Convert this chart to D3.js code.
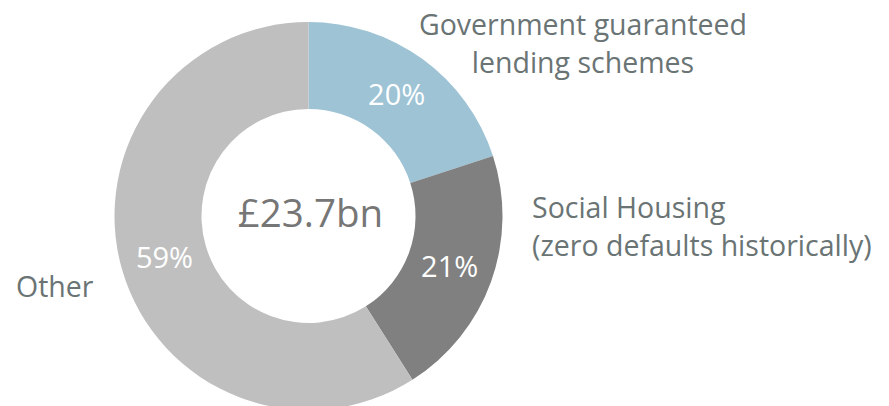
<!DOCTYPE html>
<html>
<head>
<meta charset="utf-8">
<script src="https://cdn.jsdelivr.net/npm/d3@7"></script>
<style>
  html, body { margin: 0; padding: 0; background: #fff; }
  svg { display: block; font-family: "Open Sans", sans-serif; }
</style>
</head>
<body>
<svg id="chart" width="889" height="406"></svg>
<script>
const categories = ["Government guaranteed lending schemes", "Social Housing (zero defaults historically)", "Other"];
const values = [20, 21, 59];
const valueLabels = ["20%", "21%", "59%"];
const colors = ["#9dc3d5", "#808080", "#bfbfbf"];
const totalLabel = "£23.7bn";

const svg = d3.select("#chart");
const cx = 308.5, cy = 216, outerR = 194, innerR = 107;
const g = svg.append("g").attr("transform", `translate(${cx},${cy})`);

const pie = d3.pie().sort(null).value(d => d);
const arcs = pie(values);
const arc = d3.arc().innerRadius(innerR).outerRadius(outerR);
const labelArc = d3.arc().innerRadius(150).outerRadius(150);

g.selectAll("path").data(arcs).join("path")
  .attr("d", arc)
  .attr("fill", (d, i) => colors[i]);

g.selectAll("text.pct").data(arcs).join("text")
  .attr("class", "pct")
  .attr("transform", d => `translate(${labelArc.centroid(d)})`)
  .attr("text-anchor", "middle")
  .attr("dy", "0.36em")
  .attr("fill", "#fff")
  .attr("font-size", 29)
  .text((d, i) => valueLabels[i]);

g.append("text")
  .attr("x", 2).attr("y", 11)
  .attr("text-anchor", "middle")
  .attr("fill", "#767676")
  .attr("font-size", 38.5)
  .text(totalLabel);

const labelColor = "#6a7474";
// Category labels, one text element per line
const govLines = ["Government guaranteed", "lending schemes"];
const socLines = ["Social Housing", "(zero defaults historically)"];

svg.selectAll("text.gov").data(govLines).join("text")
  .attr("class", "gov")
  .attr("fill", labelColor).attr("font-size", 28.5).attr("text-anchor", "middle")
  .attr("x", 583).attr("y", (d, i) => 35 + i * 38)
  .text(d => d);

svg.selectAll("text.soc").data(socLines).join("text")
  .attr("class", "soc")
  .attr("fill", labelColor).attr("font-size", 28.5).attr("text-anchor", "start")
  .attr("x", 532).attr("y", (d, i) => 218 + i * 38)
  .text(d => d);

svg.append("text").attr("fill", labelColor).attr("font-size", 28.5)
  .attr("x", 16).attr("y", 297).text(categories[2]);
</script>
</body>
</html>
